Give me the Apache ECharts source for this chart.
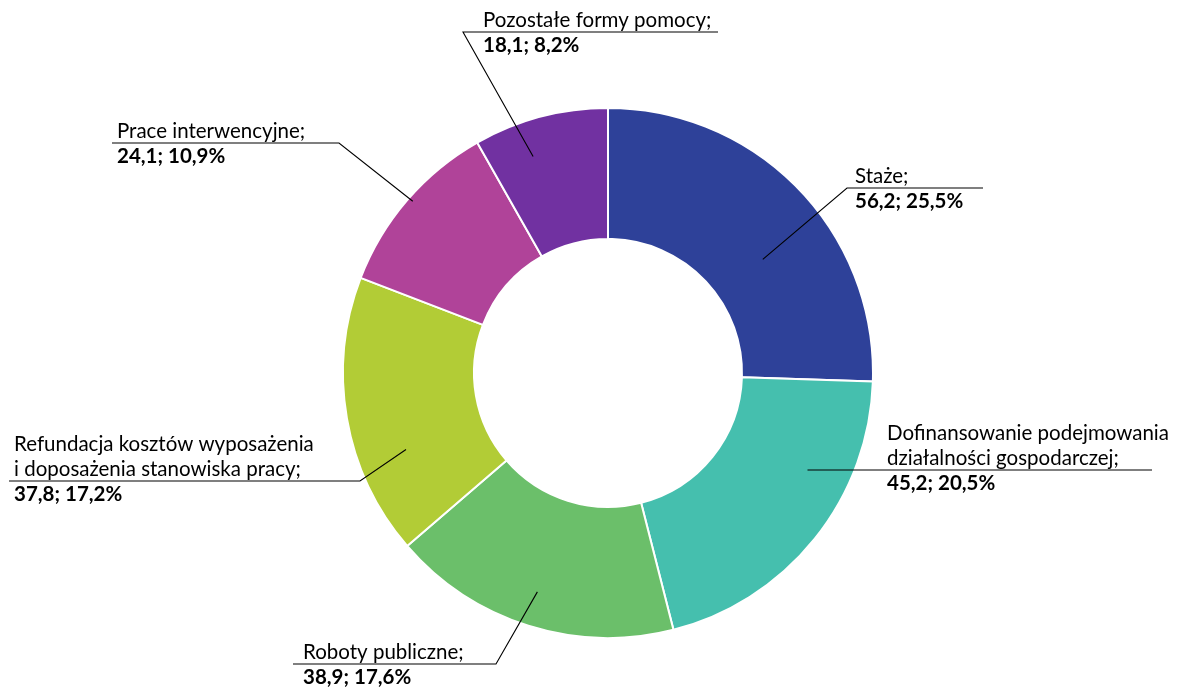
<!DOCTYPE html>
<html>
<head>
<meta charset="utf-8">
<script src="https://cdn.jsdelivr.net/npm/echarts@6/dist/echarts.min.js"></script>
<style>
  html, body { margin: 0; padding: 0; background: #fff; }
  #chart { width: 1179px; height: 689px; }
</style>
</head>
<body>
<div id="chart"></div>
<script>
const categories = [
  'Staże',
  'Dofinansowanie podejmowania\ndziałalności gospodarczej',
  'Roboty publiczne',
  'Refundacja kosztów wyposażenia\ni doposażenia stanowiska pracy',
  'Prace interwencyjne',
  'Pozostałe formy pomocy'
];
const values = [56.2, 45.2, 38.9, 37.8, 24.1, 18.1];
const percents = [25.5, 20.5, 17.6, 17.2, 10.9, 8.2];

const colors = ['#2E4199', '#45BFAE', '#6BBF6A', '#B2CC36', '#B04399', '#7131A1'];

// label placement (px): text left, underline y, elbow x, underline far end x,
// leader start angle offset (deg) and radius (px)
const labelPos = [
  { tx: 855, uy: 188, elbowX: 847, endX: 983, dA: 7.8, r: 192 },
  { tx: 887, uy: 470, elbowX: 808, endX: 1152, dA: -12.8, r: 222 },
  { tx: 303, uy: 664, elbowX: 496, endX: 293, dA: 0.4, r: 230 },
  { tx: 14, uy: 481, elbowX: 360, endX: 9, dA: -10.9, r: 216 },
  { tx: 117, uy: 143, elbowX: 339, endX: 112, dA: 0.6, r: 260 },
  { tx: 483, uy: 32, elbowX: 463, endX: 718, dA: -4.3, r: 229 }
];

const CX = 608, CY = 373, R_IN = 134, R_OUT = 265, LH = 25, FS = 20.5;

const fmt = v => v.toFixed(1).replace('.', ',');
const total = values.reduce((a, b) => a + b, 0);
const midAngles = [];
let acc = 0;
values.forEach(v => { midAngles.push((acc + v / 2) / total * 360); acc += v; });

const pieData = categories.map((c, i) => ({ name: c, value: values[i] }));

const chart = echarts.init(document.getElementById('chart'), null, { renderer: 'canvas' });
chart.setOption({
  animation: false,
  color: colors,
  series: [{
    type: 'pie',
    z: 2,
    center: [CX, CY],
    radius: [R_IN, R_OUT],
    startAngle: 90,
    clockwise: true,
    emphasis: { disabled: true },
    itemStyle: { borderColor: '#fff', borderWidth: 2 },
    label: { show: false },
    labelLine: { show: false },
    data: pieData
  }, {
    // overlay series carrying the labels and leader lines above the slices
    type: 'pie',
    z: 3,
    silent: true,
    center: [CX, CY],
    radius: [R_IN, R_OUT],
    startAngle: 90,
    clockwise: true,
    avoidLabelOverlap: false,
    emphasis: { disabled: true },
    itemStyle: { color: 'rgba(0,0,0,0)', borderWidth: 0 },
    data: pieData,
    label: {
      show: true,
      position: 'outside',
      fontFamily: 'Lato',
      color: '#000',
      formatter: p => {
        const lines = categories[p.dataIndex].split('\n');
        lines[lines.length - 1] += ';';
        return lines.map(l => '{n|' + l + '}').join('\n') +
          '\n{v|' + fmt(values[p.dataIndex]) + '; ' + fmt(percents[p.dataIndex]) + '%}';
      },
      rich: {
        n: { fontFamily: 'Lato', fontSize: FS, lineHeight: LH, color: '#000' },
        v: { fontFamily: 'Lato', fontSize: FS, fontWeight: 'bold', lineHeight: LH, color: '#000' }
      }
    },
    labelLine: { show: true, lineStyle: { color: '#000', width: 1.1 } },
    labelLayout: params => {
      const i = params.dataIndex;
      const L = labelPos[i];
      const nLines = categories[i].split('\n').length;
      const a = (midAngles[i] + L.dA) * Math.PI / 180;
      const sx = CX + L.r * Math.sin(a);
      const sy = CY - L.r * Math.cos(a);
      return {
        x: L.tx,
        y: L.uy - LH * nLines + 1,
        align: 'left',
        verticalAlign: 'top',
        labelLinePoints: [[sx, sy], [L.elbowX, L.uy], [L.endX, L.uy]]
      };
    }
  }]
});
</script>
</body>
</html>
